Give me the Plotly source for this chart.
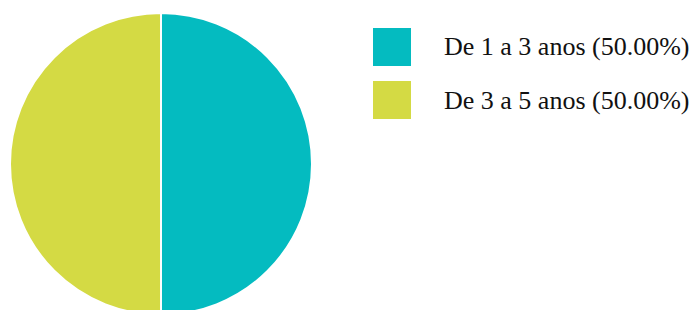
import plotly.graph_objects as go

categories = ["De 1 a 3 anos", "De 3 a 5 anos"]
values = [1, 1]
colors = ["#04BBC0", "#D4DA44"]

# page body has an 8px default margin; figure coordinates are screen minus 8
OFF = 8
W, H = 697, 310
total = sum(values)
pcts = [v / total * 100 for v in values]

def px_x(x):
    return (x - OFF) / W

def px_y(y):
    return 1 - (y - OFF) / H

fig = go.Figure()
fig.add_trace(go.Pie(
    labels=categories,
    values=values,
    marker=dict(colors=colors, line=dict(color="white", width=2)),
    sort=False,
    direction="clockwise",
    rotation=0,
    textinfo="none",
    hoverinfo="label+percent",
    showlegend=False,
    domain=dict(x=[px_x(10), px_x(312)], y=[px_y(315), px_y(13)]),
))

shapes = []
annotations = []
for i, (cat, pct, col) in enumerate(zip(categories, pcts, colors)):
    top = 28 + i * 53
    shapes.append(dict(type="rect", xref="paper", yref="paper",
                       x0=px_x(373), x1=px_x(411), y0=px_y(top), y1=px_y(top + 38),
                       fillcolor=col, line=dict(width=0)))
    annotations.append(dict(xref="paper", yref="paper", x=px_x(442), y=px_y(top + 19),
                            xanchor="left", yanchor="middle", showarrow=False,
                            text=f"{cat} ({pct:.2f}%)",
                            font=dict(family="Liberation Serif, Times New Roman, serif",
                                      size=26, color="#111111")))

fig.update_layout(
    width=W, height=H,
    margin=dict(l=0, r=0, t=0, b=0),
    paper_bgcolor="white", plot_bgcolor="white",
    shapes=shapes, annotations=annotations,
)
fig.write_html("out.html")
